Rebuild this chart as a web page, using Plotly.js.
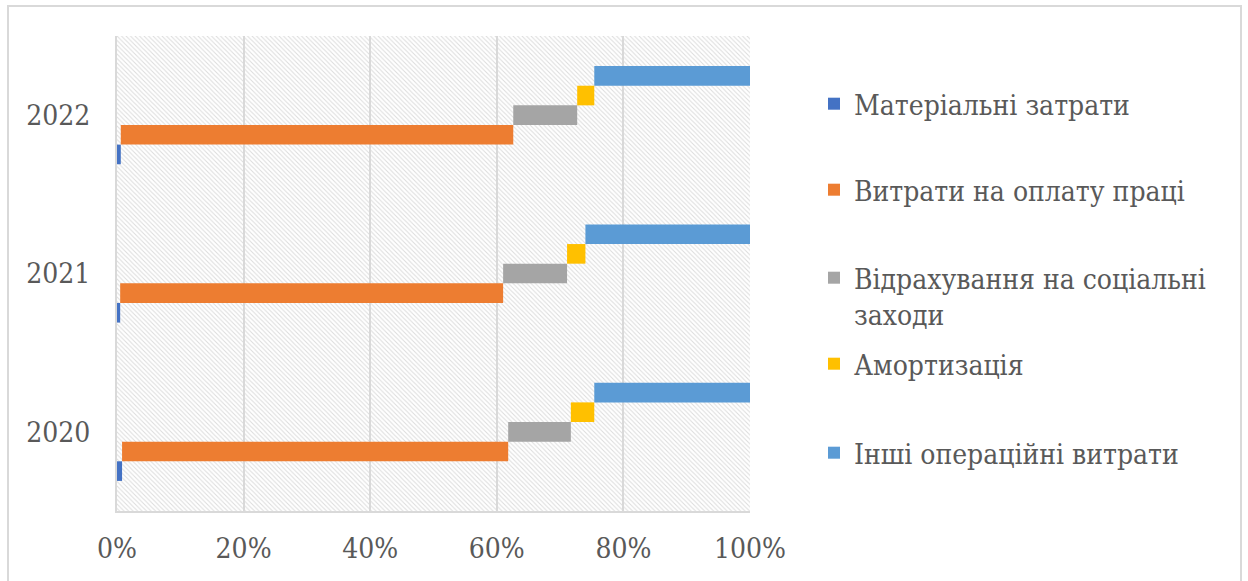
<!DOCTYPE html>
<html>
<head>
<meta charset="utf-8">
<script src="https://cdn.plot.ly/plotly-3.0.1.min.js"></script>
<style>
  html, body { margin: 0; padding: 0; background: #ffffff; }
  #chart { width: 1248px; height: 581px; }
</style>
</head>
<body>
<div id="chart"></div>
<script>
// Cost structure by year, percent of total operating costs
const years = ['2020', '2021', '2022'];
const seriesNames = [
  'Матеріальні затрати',
  'Витрати на оплату праці',
  'Відрахування на соціальні<br>заходи',
  'Амортизація',
  'Інші операційні витрати'
];
const materialCosts = [0.8, 0.5, 0.6];
const laborCosts    = [61.0, 60.5, 62.0];
const socialCharges = [9.9, 10.1, 10.1];
const depreciation  = [3.7, 2.9, 2.7];
const otherCosts    = [24.6, 26.0, 24.6];
const xTicks = [0, 20, 40, 60, 80, 100];

const seriesValues = [materialCosts, laborCosts, socialCharges, depreciation, otherCosts];
const seriesColors = ['#4472c4', '#ed7d31', '#a5a5a5', '#ffc000', '#5b9bd5'];
const legendIds = ['legend', 'legend2', 'legend3', 'legend4', 'legend5'];

const FONT = 'DejaVu Serif Condensed, DejaVu Serif';
const TEXT = '#595959';

// each series starts where the previous one ends (staggered 100% bars)
const running = years.map(() => 0);
const traces = seriesValues.map((vals, i) => {
  const base = running.slice();
  vals.forEach((v, j) => { running[j] += v; });
  return {
    type: 'bar',
    orientation: 'h',
    name: seriesNames[i],
    y: years,
    x: vals,
    base: base,
    marker: { color: seriesColors[i], line: { width: 0 } },
    legend: legendIds[i],
    hoverinfo: 'name+x'
  };
});

// plot area in pixels
const L = 117, R = 750, T = 36, B = 511, W = 1248, H = 581;
const pw = R - L, ph = B - T;
const px = v => (v - L) / pw;
const py = v => (B - v) / ph;

// diagonal hatch backdrop of the plotting area
const hatchSvg =
  '<svg xmlns="http://www.w3.org/2000/svg" width="' + pw + '" height="' + ph + '" viewBox="0 0 ' + pw + ' ' + ph + '">' +
  '<defs><pattern id="h" patternUnits="userSpaceOnUse" width="4.5" height="4.5">' +
  '<path d="M0,0 L4.5,4.5 M-1,3.5 L1,5.5 M3.5,-1 L5.5,1" stroke="#dcdcdc" stroke-width="1"/>' +
  '</pattern></defs><rect width="100%" height="100%" fill="#ffffff"/>' +
  '<rect width="100%" height="100%" fill="url(#h)"/></svg>';
const hatchUri = 'data:image/svg+xml;charset=utf-8,' + encodeURIComponent(hatchSvg);

function legendAt(yPix, extra) {
  return Object.assign({
    x: px(814), xanchor: 'left',
    y: py(yPix), yanchor: 'middle',
    bgcolor: 'rgba(0,0,0,0)',
    borderwidth: 0,
    font: { family: FONT, size: 28, color: TEXT },
    itemclick: false, itemdoubleclick: false
  }, extra || {});
}

const layout = {
  width: W, height: H,
  margin: { l: L, r: W - R, t: T, b: H - B, pad: 0, autoexpand: false },
  paper_bgcolor: '#ffffff',
  plot_bgcolor: 'rgba(0,0,0,0)',
  barmode: 'group',
  bargap: 0.38,
  bargroupgap: 0,
  showlegend: true,
  font: { family: FONT, size: 28, color: TEXT },
  xaxis: {
    range: [0, 100],
    tickvals: xTicks,
    ticktext: xTicks.map(v => v + '%'),
    showgrid: true, gridcolor: '#d9d9d9', gridwidth: 2,
    zeroline: false,
    showline: true, linecolor: '#d9d9d9', linewidth: 2,
    ticks: '', ticklabelstandoff: 11,
    tickfont: { family: FONT, size: 28, color: TEXT },
    fixedrange: true
  },
  yaxis: {
    type: 'category',
    categoryorder: 'array', categoryarray: years,
    showgrid: false, zeroline: false,
    showline: true, linecolor: '#d9d9d9', linewidth: 2,
    ticks: '', ticklabelstandoff: 19,
    tickfont: { family: FONT, size: 28, color: TEXT },
    fixedrange: true
  },
  legend:  legendAt(104),
  legend2: legendAt(190),
  legend3: legendAt(296, { valign: 'top' }),
  legend4: legendAt(364),
  legend5: legendAt(453),
  images: [{
    source: hatchUri,
    xref: 'paper', yref: 'paper',
    x: 0, y: 1, sizex: 1, sizey: 1,
    xanchor: 'left', yanchor: 'top',
    sizing: 'stretch', layer: 'below'
  }],
  shapes: [{
    type: 'rect', xref: 'paper', yref: 'paper',
    x0: px(8), x1: px(1241), y0: py(600), y1: py(6),
    line: { color: '#d9d9d9', width: 2 },
    fillcolor: 'rgba(0,0,0,0)', layer: 'below'
  }]
};

Plotly.newPlot('chart', traces, layout, { displayModeBar: false, staticPlot: true });
</script>
</body>
</html>
